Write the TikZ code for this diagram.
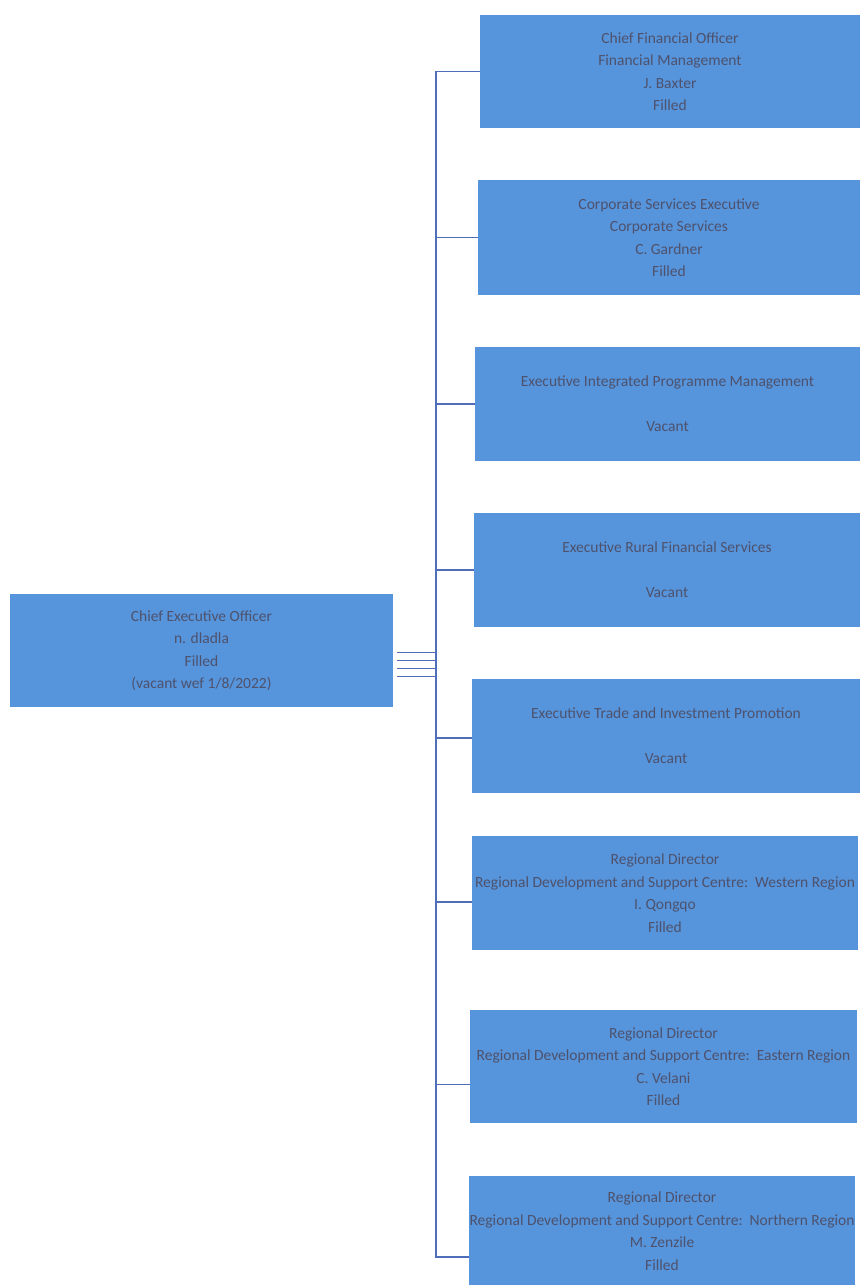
\documentclass[tikz,border=0pt]{standalone}
\usepackage{fontspec}
\setmainfont{Carlito}
\definecolor{boxblue}{RGB}{86,148,220}
\definecolor{linkblue}{RGB}{78,110,185}
\definecolor{txt}{RGB}{78,82,108}
\begin{document}
\begin{tikzpicture}[x=1pt,y=-1pt,
  orgbox/.style={rectangle,fill=boxblue,draw=none,inner sep=0pt,align=center,
    text=txt,font=\fontsize{15.5}{22.5}\selectfont},
  conn/.style={draw=linkblue,line width=1.3pt}]
\useasboundingbox[fill=white] (0,0) rectangle (860,1285);
\coordinate (bus) at (436,0);
\node[orgbox,minimum width=383pt,minimum height=113pt] (ceo) at (201.5,650.5)
  {Chief Executive Officer\\n. dladla\\Filled\\(vacant wef 1/8/2022)};
\node[orgbox,minimum width=380pt,minimum height=113pt] (c1) at (670,71.5)
  {Chief Financial Officer\\Financial Management\\J. Baxter\\Filled};
\node[orgbox,minimum width=382pt,minimum height=115pt] (c2) at (669,237.5)
  {Corporate Services Executive\\Corporate Services\\C. Gardner\\Filled};
\node[orgbox,minimum width=385pt,minimum height=114pt] (c3) at (667.5,404)
  {Executive Integrated Programme Management\\[22.5pt]Vacant};
\node[orgbox,minimum width=386pt,minimum height=114pt] (c4) at (667,570)
  {Executive Rural Financial Services\\[22.5pt]Vacant};
\node[orgbox,minimum width=388pt,minimum height=114pt] (c5) at (666,736)
  {Executive Trade and Investment Promotion\\[22.5pt]Vacant};
\node[orgbox,minimum width=386pt,minimum height=114pt] (c6) at (665,893)
  {Regional Director\\Regional Development and Support Centre:\ \ Western Region\\I. Qongqo\\Filled};
\node[orgbox,minimum width=387pt,minimum height=113pt] (c7) at (663.5,1066.5)
  {Regional Director\\Regional Development and Support Centre:\ \ Eastern Region\\C. Velani\\Filled};
\node[orgbox,minimum width=386pt,minimum height=110pt] (c8) at (662,1231)
  {Regional Director\\Regional Development and Support Centre:\ \ Northern Region\\M. Zenzile\\Filled};
\foreach \c/\s/\t in {c1/-2/0,c2/-10/0,c3/-18/0,c4/-26/0,c5/-2/-2,c6/-10/-9,c7/-18/-18,c8/-26/-26}{
  \draw[conn] ([xshift=4pt,yshift=\s pt]ceo.east) -- ([yshift=\s pt]ceo.east -| bus) |- ([yshift=\t pt]\c.west);
}
\end{tikzpicture}
\end{document}
